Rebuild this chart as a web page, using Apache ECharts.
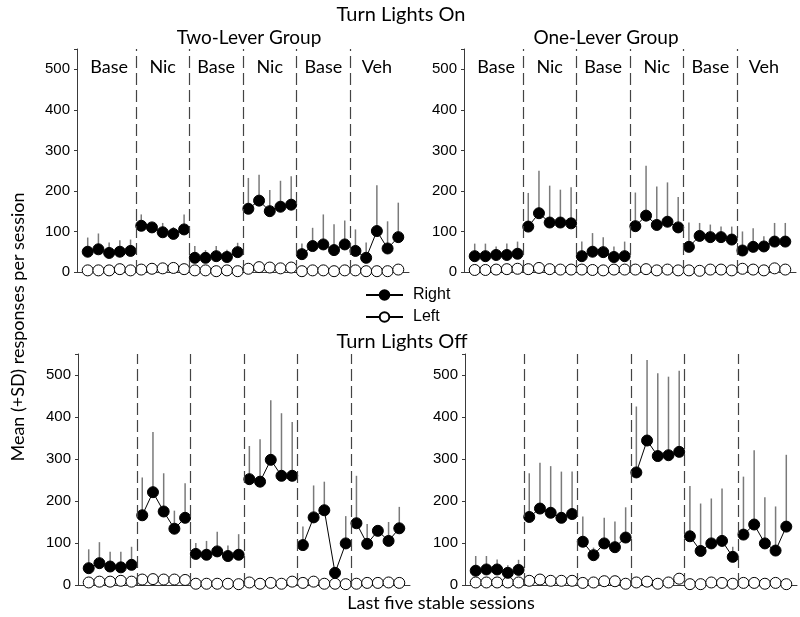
<!DOCTYPE html>
<html>
<head>
<meta charset="utf-8">
<script src="https://cdn.jsdelivr.net/npm/echarts@6/dist/echarts.min.js"></script>
<style>html,body{margin:0;padding:0;background:#fff}#c{width:800px;height:617px}</style>
</head>
<body>
<div id="c"></div>
<script>
// ---- data ----
var phaseLabels = ['Base', 'Nic', 'Base', 'Nic', 'Base', 'Veh'];
var yTicks = [0, 100, 200, 300, 400, 500];

// Turn Lights On, Two-Lever Group
var onTwoRight = [50,56,47,50,52, 114,110,98,94,105, 35,35,39,37,49, 156,176,150,161,166, 44,64,68,54,68, 52,35,101,58,86];
var onTwoRightSD = [35,39,26,28,28, 28,11,23,17,37, 29,19,25,18,23, 76,64,52,64,70, 26,45,74,64,59, 53,38,113,67,85];
var onTwoLeft = [4,4,4,7,4, 6,8,9,10,7, 4,4,2,4,2, 8,12,11,9,11, 2,4,4,2,4, 4,2,2,2,6];
var onTwoLeftSD = [0,0,0,0,0, 0,0,0,0,0, 0,0,0,0,0, 0,0,0,0,0, 0,0,0,0,0, 0,0,0,0,0];

// Turn Lights On, One-Lever Group
var onOneRight = [39,39,42,42,45, 112,145,122,122,120, 39,50,49,37,39, 113,139,116,124,110, 62,89,86,86,80, 53,62,63,75,75];
var onOneRightSD = [31,31,21,28,30, 83,105,91,81,89, 36,46,37,26,36, 83,123,95,97,75, 60,32,31,26,32, 47,46,25,46,46];
var onOneLeft = [5,5,6,7,8, 7,10,7,6,6, 6,5,4,6,6, 6,7,4,6,4, 4,3,6,6,4, 8,6,4,9,6];
var onOneLeftSD = [0,0,0,0,0, 0,0,0,0,0, 0,0,0,0,0, 0,0,0,0,0, 0,0,0,0,0, 0,0,0,0,0];

// Turn Lights Off, Two-Lever Group
var offTwoRight = [40,52,44,42,48, 166,221,175,134,160, 74,72,80,69,72, 252,246,298,260,260, 95,161,178,29,99, 147,98,129,105,135];
var offTwoRightSD = [45,50,35,37,43, 90,143,91,43,82, 26,33,47,25,49, 79,101,142,149,128, 44,76,68,3,65, 113,47,3,45,51];
var offTwoLeft = [6,8,8,10,8, 13,14,13,13,12, 3,3,3,3,2, 6,3,5,3,8, 5,8,3,3,2, 3,5,5,6,5];
var offTwoLeftSD = [0,0,0,0,0, 0,0,0,0,0, 0,0,0,0,0, 0,0,0,0,0, 0,0,0,0,0, 0,0,0,0,0];

// Turn Lights Off, One-Lever Group
var offOneRight = [34,37,37,29,36, 162,182,172,160,169, 103,71,99,90,113, 268,344,307,309,317, 116,81,99,105,67, 120,144,99,82,139];
var offOneRightSD = [35,32,24,18,24, 104,109,111,110,101, 60,18,61,61,72, 157,192,197,187,193, 120,113,107,125,24, 138,177,110,105,171];
var offOneLeft = [6,6,6,6,6, 10,13,10,10,10, 5,6,9,9,3, 6,8,3,6,15, 2,2,6,5,3, 5,5,3,5,2];
var offOneLeftSD = [0,0,0,0,0, 0,0,0,0,0, 0,0,0,0,0, 0,0,0,0,0, 0,0,0,0,0, 0,0,0,0,0];

var phaseBreaks = [5.5, 10.5, 15.5, 20.5, 25.5];

// ---- build ----
var panels = [
  {r: onTwoRight, rsd: onTwoRightSD, l: onTwoLeft, lsd: onTwoLeftSD},
  {r: onOneRight, rsd: onOneRightSD, l: onOneLeft, lsd: onOneLeftSD},
  {r: offTwoRight, rsd: offTwoRightSD, l: offTwoLeft, lsd: offTwoLeftSD},
  {r: offOneRight, rsd: offOneRightSD, l: offOneLeft, lsd: offOneLeftSD}
];
var grids = [
  {left: 77, top: 49, width: 332, height: 223},
  {left: 464, top: 49, width: 332, height: 223},
  {left: 78, top: 354, width: 332, height: 231},
  {left: 465, top: 354, width: 332, height: 231}
];

function lineData(vals) {
  var out = [];
  vals.forEach(function (v, i) {
    if (i > 0 && i % 5 === 0) out.push([i + 0.5, '-']);
    out.push([i + 1, v]);
  });
  return out;
}
function errData(vals, sds) {
  var out = [];
  vals.forEach(function (v, i) { if (sds[i] > 0) out.push([i + 1, v, sds[i]]); });
  return out;
}
function errRender(params, api) {
  var x = api.value(0), y = api.value(1), sd = api.value(2);
  var p0 = api.coord([x, y]), p1 = api.coord([x, y + sd]);
  return {type: 'line', shape: {x1: p0[0], y1: p0[1], x2: p1[0], y2: p1[1]},
          style: {stroke: '#7a7a7a', lineWidth: 1.5}};
}

var xAxes = [], yAxes = [], series = [];
panels.forEach(function (p, k) {
  xAxes.push({type: 'value', gridIndex: k, min: 0, max: 31,
    axisLine: {show: true, onZero: false, lineStyle: {color: '#3a3a3a', width: 1}},
    axisTick: {show: false}, axisLabel: {show: false}, splitLine: {show: false}});
  yAxes.push({type: 'value', gridIndex: k, min: 0, max: 550, interval: 100,
    axisLine: {show: true, lineStyle: {color: '#3a3a3a', width: 1}},
    axisTick: {show: true, length: 3, lineStyle: {color: '#3a3a3a'}},
    axisLabel: {fontFamily: 'Liberation Sans', fontSize: 15, color: '#000', margin: 7,
      formatter: function (v) { return yTicks.indexOf(v) >= 0 ? String(v) : ''; }},
    splitLine: {show: false}});
  series.push({type: 'custom', name: 'errR' + k, xAxisIndex: k, yAxisIndex: k, z: 1,
    renderItem: errRender, data: errData(p.r, p.rsd), silent: true});
  series.push({type: 'custom', name: 'errL' + k, xAxisIndex: k, yAxisIndex: k, z: 1,
    renderItem: errRender, data: errData(p.l, p.lsd), silent: true});
  series.push({type: 'line', name: 'Left', xAxisIndex: k, yAxisIndex: k, z: 3,
    data: lineData(p.l), connectNulls: false, symbol: 'circle', symbolSize: 11,
    lineStyle: {color: '#000', width: 1}, itemStyle: {color: '#fff', borderColor: '#000', borderWidth: 1},
    animation: false});
  series.push({type: 'line', name: 'Right', xAxisIndex: k, yAxisIndex: k, z: 4,
    data: lineData(p.r), connectNulls: false, symbol: 'circle', symbolSize: 11,
    lineStyle: {color: '#000', width: 1}, itemStyle: {color: '#000', borderColor: '#000', borderWidth: 1},
    animation: false,
    markLine: {silent: true, symbol: 'none', label: {show: false}, animation: false,
      lineStyle: {color: '#444', width: 1.2, type: [12, 5]},
      data: phaseBreaks.map(function (b) { return {xAxis: b}; })}});
});

var chart = echarts.init(document.getElementById('c'), null, {renderer: 'canvas'});
var txt = function (s, x, y, size, rot) {
  return {type: 'text', x: x, y: y, rotation: rot || 0,
    style: {text: s, fontFamily: 'Lato', fontSize: size, fill: '#000', textAlign: 'center', textVerticalAlign: 'middle'}};
};
chart.setOption({
  animation: false,
  grid: grids,
  xAxis: xAxes,
  yAxis: yAxes,
  series: series,
  legend: {data: ['Right', 'Left'], orient: 'vertical', left: 365, top: 287, padding: 0,
    itemWidth: 37, itemHeight: 12, itemGap: 6, selectedMode: false,
    textStyle: {fontFamily: 'Liberation Sans', fontSize: 16, color: '#000', padding: [0, 0, 0, 5]}}
});

var graphics = [
  txt('Turn Lights On', 401, 15, 20),
  txt('Two-Lever Group', 249, 38, 19),
  txt('One-Lever Group', 606, 38, 19),
  txt('Turn Lights Off', 402, 342, 20),
  txt('Last five stable sessions', 441, 603, 18),
  txt('Mean (+SD) responses per session', 18, 327, 18, Math.PI / 2)
];
[0, 1].forEach(function (k) {
  phaseLabels.forEach(function (lab, j) {
    var pt = chart.convertToPixel({gridIndex: k}, [5 * j + 3, 0]);
    graphics.push(txt(lab, pt[0], 67, 18));
  });
});
chart.setOption({graphic: graphics});
</script>
</body>
</html>
